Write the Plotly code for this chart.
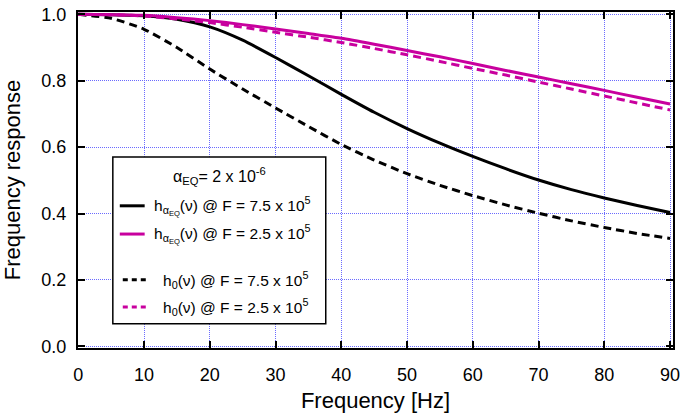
import plotly.graph_objects as go

# ---- data ----
freq = [0, 5, 10, 15, 20, 25, 30, 35, 40, 45, 50, 55, 60, 65, 70, 75, 80, 85, 90]
h_aeq_F75 = [1.000, 0.999, 0.996, 0.985, 0.962, 0.922, 0.870, 0.815, 0.759, 0.705,
             0.656, 0.612, 0.572, 0.535, 0.501, 0.472, 0.447, 0.424, 0.403]
h_aeq_F25 = [1.000, 0.999, 0.997, 0.990, 0.981, 0.969, 0.956, 0.942, 0.928, 0.910,
             0.891, 0.872, 0.852, 0.831, 0.811, 0.791, 0.771, 0.750, 0.730]
h0_F75 = [1.000, 0.988, 0.955, 0.900, 0.835, 0.775, 0.718, 0.662, 0.608, 0.561,
          0.520, 0.485, 0.454, 0.426, 0.401, 0.378, 0.358, 0.340, 0.325]
h0_F25 = [1.000, 0.999, 0.995, 0.986, 0.975, 0.961, 0.946, 0.931, 0.915, 0.897,
          0.878, 0.858, 0.837, 0.817, 0.796, 0.775, 0.754, 0.733, 0.712]

x_ticks = [0, 10, 20, 30, 40, 50, 60, 70, 80, 90]
y_ticks = [0.0, 0.2, 0.4, 0.6, 0.8, 1.0]
y_tick_labels = ["0.0", "0.2", "0.4", "0.6", "0.8", "1.0"]

legend_title = "α<sub>EQ</sub>= 2 x 10<sup>-6</sup>"
legend_labels = [
    "h<sub>α<sub>EQ</sub></sub>(ν) @ F = 7.5 x 10<sup>5</sup>",
    "h<sub>α<sub>EQ</sub></sub>(ν) @ F = 2.5 x 10<sup>5</sup>",
    "h<sub>0</sub>(ν) @ F = 7.5 x 10<sup>5</sup>",
    "h<sub>0</sub>(ν) @ F = 2.5 x 10<sup>5</sup>",
]

BLACK = "#000000"
MAGENTA = "#C8009E"
FONT = "Liberation Sans, Arial, sans-serif"

W, H = 685, 414
ML, MR, MT, MB = 78, 9, 5, 64
PW, PH = W - ML - MR, H - MT - MB


def px(x):
    return (x - ML) / PW


def py(y):
    return (H - MB - y) / PH


fig = go.Figure()
series = [
    (h_aeq_F75, BLACK, "solid"),
    (h0_F75, BLACK, "8px,5px"),
    (h0_F25, MAGENTA, "8px,5px"),
    (h_aeq_F25, MAGENTA, "solid"),
]
for ys, col, dash in series:
    fig.add_trace(go.Scatter(x=freq, y=ys, mode="lines", showlegend=False,
                             line=dict(color=col, width=3, dash=dash, shape="spline", smoothing=0.6)))

# ---- manual legend ----
shapes = [dict(type="rect", xref="paper", yref="paper", x0=px(113), x1=px(327),
               y0=py(325), y1=py(154), line=dict(color="black", width=1.5),
               fillcolor="white", layer="above")]
annotations = [dict(xref="paper", yref="paper", x=px(220), y=py(173), text=legend_title,
                    showarrow=False, xanchor="center", yanchor="middle",
                    font=dict(size=16, color="black", family=FONT))]
entries = [
    (204, 120, 145, 152, BLACK, "solid"),
    (233, 120, 145, 152, MAGENTA, "solid"),
    (280, 123, 150, 161, BLACK, "dash"),
    (308, 123, 150, 161, MAGENTA, "dash"),
]
for (yy, lx0, lx1, tx, col, dash), lab in zip(entries, legend_labels):
    shapes.append(dict(type="line", xref="paper", yref="paper", x0=px(lx0), x1=px(lx1),
                       y0=py(yy), y1=py(yy), layer="above",
                       line=dict(color=col, width=3, dash="solid" if dash == "solid" else "5px,4px")))
    annotations.append(dict(xref="paper", yref="paper", x=px(tx), y=py(yy), text=lab,
                            showarrow=False, xanchor="left", yanchor="middle",
                            font=dict(size=15.5, color="black", family=FONT)))

axis_common = dict(
    showline=True, linecolor="black", linewidth=2, mirror="ticks",
    ticks="inside", ticklen=7, tickwidth=2, tickcolor="black",
    showgrid=True, gridcolor="#6b6bff", gridwidth=1, griddash="1px,1px",
    zeroline=False, tickfont=dict(size=18, color="black", family=FONT),
    ticklabeloverflow="allow",
)

fig.update_layout(
    width=W, height=H,
    margin=dict(l=ML, r=MR, t=MT, b=MB),
    paper_bgcolor="white", plot_bgcolor="white",
    font=dict(family=FONT, color="black"),
    xaxis=dict(range=[-0.05, 90.45], tickvals=x_ticks, ticktext=[str(v) for v in x_ticks],
               ticklabelstandoff=9,
               title=dict(text="Frequency [Hz]", font=dict(size=22, color="black", family=FONT), standoff=9),
               **axis_common),
    yaxis=dict(range=[-0.005, 1.007], tickvals=y_ticks, ticktext=y_tick_labels,
               ticklabelstandoff=6,
               title=dict(text="Frequency response", font=dict(size=22, color="black", family=FONT), standoff=20),
               **axis_common),
    shapes=shapes, annotations=annotations,
)

fig.write_html("out.html", post_script="document.body.style.margin='0';",
               config={"displayModeBar": False})
